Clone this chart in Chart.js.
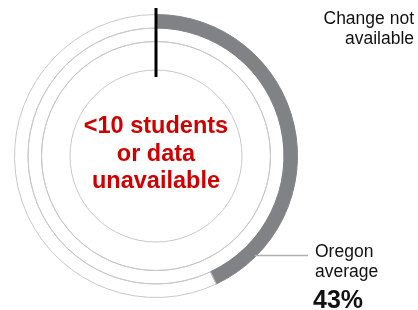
<!DOCTYPE html>
<html>
<head>
<meta charset="utf-8">
<script src="https://cdn.jsdelivr.net/npm/chart.js@4.4.0/dist/chart.umd.min.js"></script>
<style>
  html, body { margin: 0; padding: 0; background: #fff; }
  #wrap { position: relative; width: 418px; height: 310px; font-family: "Liberation Sans", Arial, sans-serif; }
  #chart { position: absolute; left: 0; top: 0; }
  .label { position: absolute; color: #111; font-size: 17.5px; line-height: 20px; }
  #change { right: 4px; top: 8px; text-align: right; }
  #oregon { left: 315px; top: 241px; }
  #oregon b { display: block; font-size: 25px; line-height: 30px; margin-top: 3px; margin-left: -2px; }
  #center { position: absolute; left: 56px; width: 200px; top: 112px; text-align: center;
    color: #d00000; font-weight: bold; font-size: 23.5px; line-height: 27.5px; }
</style>
</head>
<body>
<div id="wrap">
  <canvas id="chart" width="418" height="310"></canvas>
  <div class="label" id="change">Change not<br>available</div>
  <div class="label" id="oregon">Oregon<br>average<b id="avg"></b></div>
  <div id="center"><10 students<br>or data<br>unavailable</div>
</div>
<script>
var categories = ["Oregon average", "Rest"];
var oregonValues = [43, 57];
var emptyRing = [100];

document.getElementById("avg").textContent = oregonValues[0] + "%";

// black tick at the top and the leader line to the "Oregon average" label
var marksPlugin = {
  id: "marks",
  afterDatasetsDraw: function (chart) {
    var ctx = chart.ctx;
    var arc = chart.getDatasetMeta(0).data[0];
    var cx = arc.x, cy = arc.y, r = arc.outerRadius;

    ctx.save();
    ctx.strokeStyle = "#000";
    ctx.lineWidth = 3;
    ctx.beginPath();
    ctx.moveTo(cx, cy - 148);
    ctx.lineTo(cx, cy - 79);
    ctx.stroke();

    var ly = 255.5;
    var lx = cx + Math.sqrt(r * r - (ly - cy) * (ly - cy));
    ctx.strokeStyle = "#b0b0b0";
    ctx.lineWidth = 1.5;
    ctx.beginPath();
    ctx.moveTo(lx - 2, ly);
    ctx.lineTo(308, ly);
    ctx.stroke();
    ctx.restore();
  },
};

new Chart(document.getElementById("chart").getContext("2d"), {
  type: "doughnut",
  data: {
    labels: categories,
    datasets: [
      {
        data: oregonValues,
        backgroundColor: ["#808285", "rgba(0,0,0,0)"],
        borderColor: ["#808285", "#c8c8c8"],
        borderWidth: 1,
        weight: 13.5,
      },
      {
        data: emptyRing,
        backgroundColor: "rgba(0,0,0,0)",
        borderColor: "#c8c8c8",
        borderWidth: 1,
        weight: 13.5,
      },
      {
        data: emptyRing,
        backgroundColor: "rgba(0,0,0,0)",
        borderColor: "#c8c8c8",
        borderWidth: 1,
        weight: 28.5,
      },
    ],
  },
  options: {
    responsive: false,
    animation: false,
    events: [],
    cutout: 86,
    layout: {
      padding: { left: 14, top: 14, right: 120, bottom: 12 },
    },
    plugins: {
      legend: { display: false },
      tooltip: { enabled: false },
    },
  },
  plugins: [marksPlugin],
});
</script>
</body>
</html>
